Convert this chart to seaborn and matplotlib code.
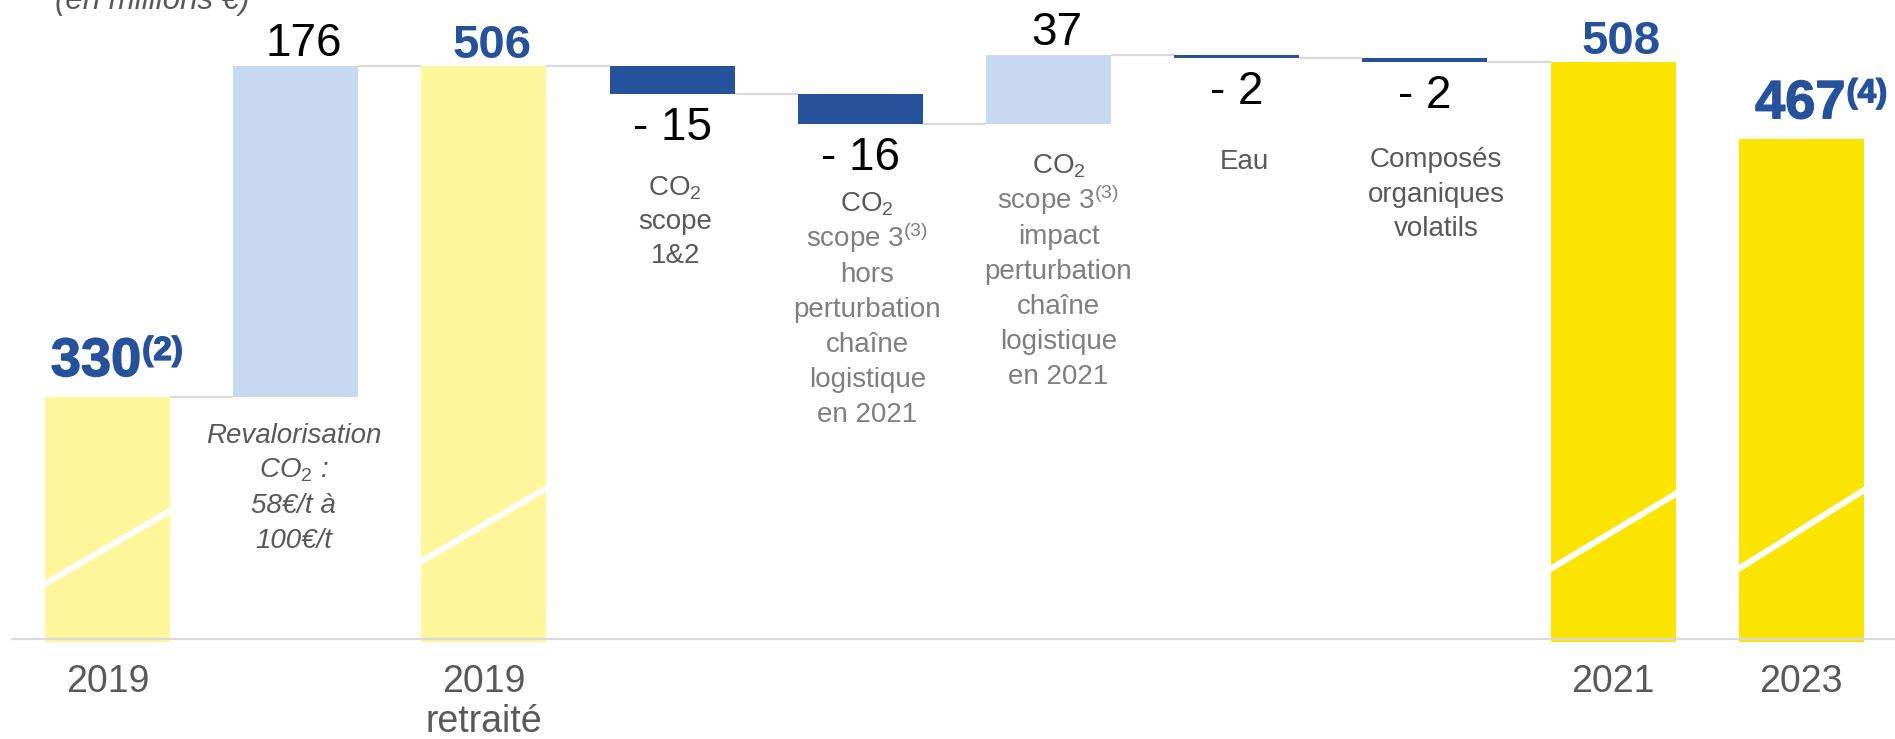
import matplotlib
matplotlib.use("Agg")
import matplotlib.pyplot as plt
import matplotlib.patheffects as pe
import matplotlib.transforms as mtransforms
import pandas as pd
import seaborn as sns

# ---------------------------------------------------------------- data (M€)
steps = ["2019", "Revalorisation CO2", "2019 retraité", "CO2 scope 1&2",
         "CO2 scope 3 hors perturbation", "CO2 scope 3 impact perturbation",
         "Eau", "Composés organiques volatils", "2021", "2023"]
step_kind = ["total", "delta", "total", "delta", "delta", "delta",
             "delta", "delta", "total", "total"]
step_values = [330, 176, 506, -15, -16, 37, -2, -2, 508, 467]
total_notes = {"2019": "(2)", "2023": "(4)"}
tick_labels = ["2019", "", "2019\nretraité", "", "", "", "", "", "2021", "2023"]

desc_reval = ["Revalorisation", "CO$_2$ :", "58€/t à", "100€/t"]
desc_scope12 = ["CO$_2$", "scope", "1&2"]
desc_scope3_hors = ["CO$_2$", "scope 3$^{(3)}$", "hors", "perturbation",
                    "chaîne", "logistique", "en 2021"]
desc_scope3_impact = ["CO$_2$", "scope 3$^{(3)}$", "impact", "perturbation",
                      "chaîne", "logistique", "en 2021"]
desc_eau = ["Eau"]
desc_cov = ["Composés", "organiques", "volatils"]

# ---------------------------------------------------------------- style
W, H, DPI = 1895, 739, 100
PALE_YELLOW = "#FFF59A"
YELLOW = "#FBE400"
LIGHT_BLUE = "#C6D9F0"
DARK_BLUE = "#26519B"
GREY = "#595959"
LIGHT_GREY_TXT = "#7F7F7F"
RULE = "#D9D9D9"
AXIS_FLOOR = 201.3          # value sitting on the baseline (truncated axis)
PX_PER_UNIT = 1.8807
BAR_W = 0.664

sns.set_theme(style="white")
plt.rcParams["font.family"] = ["Liberation Sans", "DejaVu Sans"]
plt.rcParams["mathtext.fontset"] = "custom"
plt.rcParams["mathtext.rm"] = "Liberation Sans"
plt.rcParams["mathtext.it"] = "Liberation Sans:italic"
plt.rcParams["mathtext.bf"] = "Liberation Sans:bold"

# ---------------------------------------------------------------- waterfall
bottoms, heights, levels = [], [], []
level = 0
for kind, v in zip(step_kind, step_values):
    if kind == "total":
        bottoms.append(0)
        heights.append(v)
        level = v
    else:
        bottoms.append(min(level, level + v))
        heights.append(abs(v))
        level += v
    levels.append(level)

df = pd.DataFrame({"step": steps, "height": heights, "bottom": bottoms,
                   "level": levels, "kind": step_kind, "value": step_values})


def fill_for(name, kind, v):
    if kind == "delta":
        return LIGHT_BLUE if v > 0 else DARK_BLUE
    return PALE_YELLOW if name.startswith("2019") else YELLOW


fills = [fill_for(n, k, v) for n, k, v in zip(steps, step_kind, step_values)]

fig = plt.figure(figsize=(W / DPI, H / DPI), dpi=DPI)
ax_h_px = 642
ax = fig.add_axes([0, 1 - ax_h_px / H, 1, ax_h_px / H])

sns.barplot(data=df, x="step", y="height", order=steps,
            bottom=df["bottom"].to_numpy(), width=BAR_W, errorbar=None,
            color=DARK_BLUE, saturation=1, linewidth=0, ax=ax)
for patch, c in zip(ax.patches, fills):
    patch.set_facecolor(c)
    patch.set_edgecolor("none")
    patch.set_zorder(2)

# axis ranges (truncated value axis)
x0_px, step_px = 107.5, 188.2
ax.set_xlim(-x0_px / step_px, -x0_px / step_px + W / step_px)
ax.set_ylim(AXIS_FLOOR - 3 / PX_PER_UNIT, AXIS_FLOOR + 639 / PX_PER_UNIT)

# connectors between consecutive bars
for i in range(len(steps) - 1):
    if step_kind[i] == "total" and step_kind[i + 1] == "total":
        continue
    ax.hlines(levels[i], i + BAR_W / 2, i + 1 - BAR_W / 2,
              color=RULE, lw=1.6, zorder=1)

# axis-break marks on the total bars
break_marks = {"2019": (230, 270), "2019 retraité": (242, 282),
               "2021": (238, 279), "2023": (238, 281)}
for i, name in enumerate(steps):
    if name in break_marks:
        lo, hi = break_marks[name]
        ax.plot([i - BAR_W / 2 - 0.01, i + BAR_W / 2 + 0.01], [lo, hi],
                color="white", lw=4.4, solid_capstyle="butt", zorder=3)

# baseline
ax.axhline(AXIS_FLOOR, xmin=12 / W, xmax=1, color=RULE, lw=1.6, zorder=4)

# value labels
heavy = [pe.withStroke(linewidth=1.0, foreground=DARK_BLUE)]
for i, (name, kind, v) in enumerate(zip(steps, step_kind, step_values)):
    top = bottoms[i] + heights[i]
    if kind == "total":
        note = total_notes.get(name)
        if note:
            dx = -11.5 if name == "2019" else -1
            t = ax.annotate(f"{v}", xy=(i, top), xytext=(dx, 21),
                            textcoords="offset pixels", ha="center",
                            va="baseline", fontsize=39, fontweight="bold",
                            color=DARK_BLUE, zorder=5, path_effects=heavy)
            ax.annotate(note, xy=(1, 1), xycoords=t, xytext=(1, 1),
                        textcoords="offset pixels", ha="left", va="top",
                        fontsize=24, fontweight="bold", color=DARK_BLUE,
                        zorder=5, path_effects=heavy)
        else:
            ax.annotate(f"{v}", xy=(i, top), xytext=(8, 8),
                        textcoords="offset pixels", ha="center",
                        va="baseline", fontsize=34, fontweight="bold",
                        color=DARK_BLUE, zorder=5)
    else:
        if v > 0:
            ax.annotate(f"{v}", xy=(i, top), xytext=(8, 10),
                        textcoords="offset pixels", ha="center",
                        va="baseline", fontsize=33, color="black", zorder=5)
        else:
            ax.annotate(f"- {abs(v)}", xy=(i, bottoms[i]), xytext=(0, -46),
                        textcoords="offset pixels", ha="center",
                        va="baseline", fontsize=33, color="black", zorder=5)

# descriptions under/over the variation bars
desc_blocks = [
    # step, lines, first baseline (px from top), line step (px), dx (px), italic, light-grey from line
    ("Revalorisation CO2", desc_reval, 443, 35, -2, True, None),
    ("CO2 scope 1&2", desc_scope12, 195, 34, 3, False, None),
    ("CO2 scope 3 hors perturbation", desc_scope3_hors, 212, 35, 7, False, 1),
    ("CO2 scope 3 impact perturbation", desc_scope3_impact, 174, 35, 10, False, 1),
    ("Eau", desc_eau, 169, 35, 8, False, None),
    ("Composés organiques volatils", desc_cov, 167, 34.5, 11, False, None),
]
blend = mtransforms.blended_transform_factory(ax.transData, fig.transFigure)
for name, lines, y0, dy, dx, italic, light_from in desc_blocks:
    i = steps.index(name)
    tr = blend + mtransforms.ScaledTranslation(dx / DPI, 0, fig.dpi_scale_trans)
    for k, line in enumerate(lines):
        col = LIGHT_GREY_TXT if (light_from is not None and k >= light_from) else GREY
        ax.text(i, 1 - (y0 + k * dy) / H, line, transform=tr, ha="center",
                va="baseline", fontsize=20, color=col,
                style="italic" if italic else "normal", zorder=5)

# category labels
ax.set_xticks(range(len(steps)))
ax.set_xticklabels(tick_labels, fontsize=27, color=GREY, linespacing=1.15)
ax.tick_params(axis="x", length=0, pad=16)
ax.set_yticks([])
ax.set_xlabel("")
ax.set_ylabel("")
for s in ax.spines.values():
    s.set_visible(False)

fig.text(55 / W, 1 - 9 / H, "(en millions €)", fontsize=22.5, style="italic",
         color=GREY, ha="left", va="baseline")

fig.savefig("out.png", dpi=DPI)
